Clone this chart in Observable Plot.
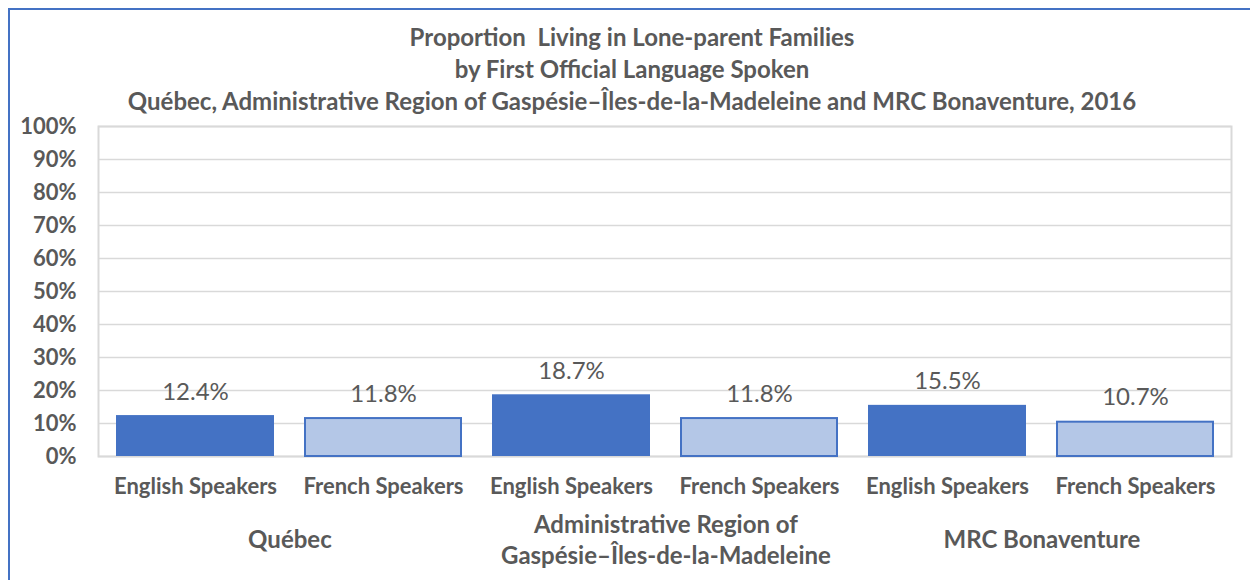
<!DOCTYPE html>
<html><head><meta charset="utf-8">
<script src="https://cdn.jsdelivr.net/npm/d3@7"></script>
<script src="https://cdn.jsdelivr.net/npm/@observablehq/plot@0.6"></script>
<style>
body{margin:0;background:#fff;font-family:Lato,"Open Sans",sans-serif}
#wrap{position:relative;width:1250px;height:580px;overflow:hidden}
#border{position:absolute;left:8px;top:8px;width:1400px;height:800px;border-top:2.5px solid #4472c4;border-left:2.5px solid #4472c4}
#title{position:absolute;left:0;top:21px;width:1264px;text-align:center;font-weight:bold;font-size:24px;line-height:32px;color:#595959}
#chart{position:absolute;left:0;top:118px}
</style></head>
<body>
<div id="wrap">
  <div id="border"></div>
  <div id="title">Proportion&nbsp; Living in Lone-parent Families<br>by First Official Language Spoken<br>Québec, Administrative Region of Gaspésie–Îles-de-la-Madeleine and MRC Bonaventure, 2016</div>
  <div id="chart"></div>
</div>
<script>
const regions = ["Québec", "Administrative Region of\nGaspésie–Îles-de-la-Madeleine", "MRC Bonaventure"];
const languages = ["English Speakers", "French Speakers"];
const englishValues = [12.4, 18.7, 15.5];
const frenchValues = [11.8, 11.8, 10.7];
const yTicks = [0, 10, 20, 30, 40, 50, 60, 70, 80, 90, 100];

const key = (r, l) => r + "|" + l;
const rows = [];
regions.forEach((r, i) => {
  rows.push({region: r, lang: languages[0], key: key(r, languages[0]), value: englishValues[i]});
  rows.push({region: r, lang: languages[1], key: key(r, languages[1]), value: frenchValues[i]});
});
const keys = rows.map(d => d.key);

const W = 1250, H = 462, ML = 98, MR = 19, MT = 8, MB = 124;
const xOpts = {type: "band", domain: keys, paddingInner: 0.16, paddingOuter: 0.08};
const xs = Plot.scale({x: {...xOpts, range: [ML, W - MR]}});
const half = xs.step / 2;

const txt = "#595959";
const chart = Plot.plot({
  width: W, height: H, marginLeft: ML, marginRight: MR, marginTop: MT, marginBottom: MB,
  style: {fontFamily: "Lato, 'Open Sans', sans-serif", color: txt, background: "transparent", overflow: "visible"},
  x: {...xOpts, axis: null, label: null},
  y: {domain: [0, 100], axis: null, label: null},
  marks: [
    Plot.gridY(yTicks, {stroke: "#d9d9d9", strokeOpacity: 1, strokeWidth: 1.5}),
    Plot.frame({stroke: "#d9d9d9", strokeWidth: 2}),
    Plot.axisY(yTicks, {tickSize: 0, tickPadding: 22, tickFormat: d => d + "%", fontSize: 22, fontWeight: "bold", fill: txt, label: null}),
    Plot.axisX({tickSize: 0, tickPadding: 22, tickFormat: k => k.split("|")[1], fontSize: 22, fontWeight: "bold", fill: txt, label: null}),
    Plot.barY(rows, {filter: d => d.lang === languages[0], x: "key", y: "value", fill: "#4472c4"}),
    Plot.barY(rows, {filter: d => d.lang === languages[1], x: "key", y: "value", fill: "#b4c7e7", stroke: "#4472c4", strokeWidth: 2, insetTop: 1, insetLeft: 1, insetRight: 1}),
    Plot.text(rows, {x: "key", y: "value", text: d => d.value.toFixed(1) + "%", dy: -16, lineAnchor: "bottom", fontSize: 24, fill: txt}),
    Plot.text(regions, {x: r => key(r, languages[0]), dx: half, frameAnchor: "bottom", dy: 82, lineAnchor: "middle", lineHeight: 1.3, text: r => r, fontSize: 24, fontWeight: "bold", fill: txt})
  ]
});
document.getElementById("chart").append(chart);
</script>
</body></html>
